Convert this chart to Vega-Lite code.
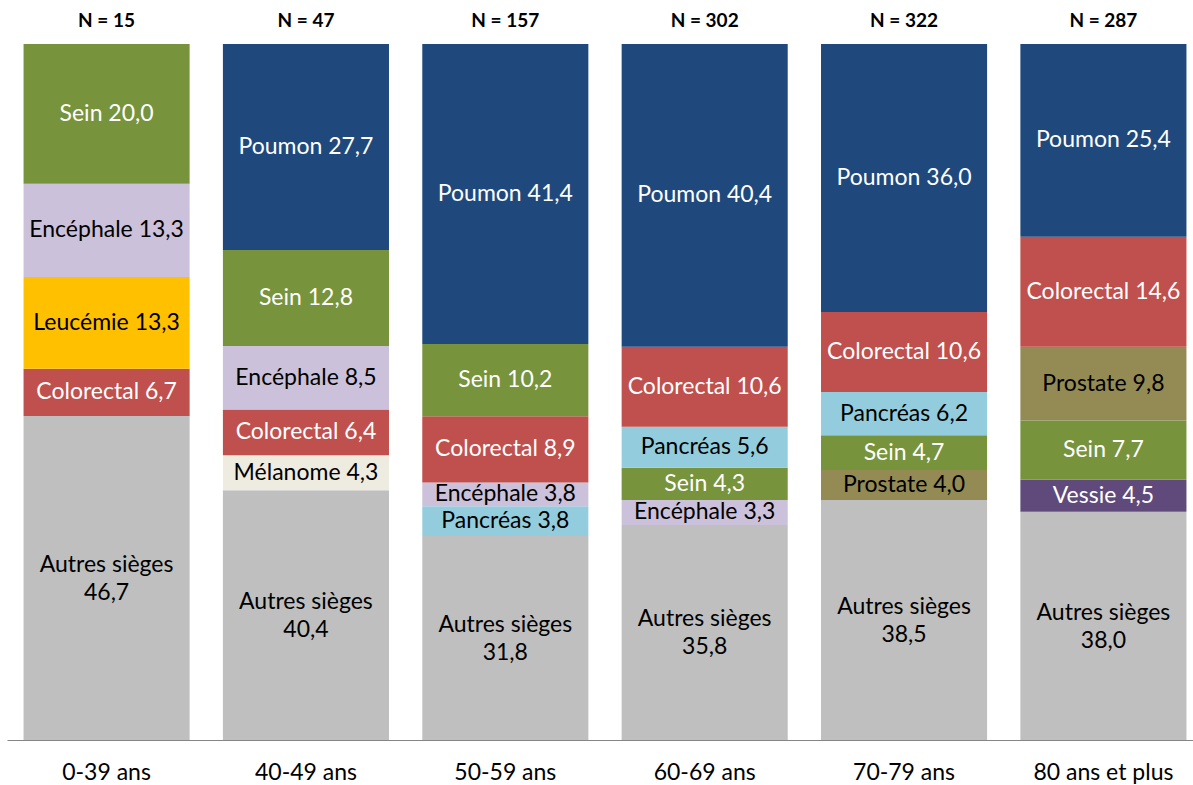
{
  "$schema": "https://vega.github.io/schema/vega-lite/v6.json",
  "width": 1196,
  "height": 696,
  "autosize": "none",
  "padding": {"left": 7, "top": 44, "right": 0, "bottom": 45},
  "background": "white",
  "config": {"view": {"stroke": null}, "font": "Lato"},
  "datasets": {
    "sieges": [
      {"age": "0-39 ans", "site": "Autres sièges", "pct": 46.7, "part": 46.6, "ordre": 1},
      {"age": "0-39 ans", "site": "Colorectal", "pct": 6.7, "part": 6.8, "ordre": 2},
      {"age": "0-39 ans", "site": "Leucémie", "pct": 13.3, "part": 13.2, "ordre": 3},
      {"age": "0-39 ans", "site": "Encéphale", "pct": 13.3, "part": 13.4, "ordre": 4},
      {"age": "0-39 ans", "site": "Sein", "pct": 20.0, "part": 20.1, "ordre": 5},
      {"age": "40-49 ans", "site": "Autres sièges", "pct": 40.4, "part": 35.9, "ordre": 1},
      {"age": "40-49 ans", "site": "Mélanome", "pct": 4.3, "part": 5.0, "ordre": 2},
      {"age": "40-49 ans", "site": "Colorectal", "pct": 6.4, "part": 6.6, "ordre": 3},
      {"age": "40-49 ans", "site": "Encéphale", "pct": 8.5, "part": 9.1, "ordre": 4},
      {"age": "40-49 ans", "site": "Sein", "pct": 12.8, "part": 13.8, "ordre": 5},
      {"age": "40-49 ans", "site": "Poumon", "pct": 27.7, "part": 29.6, "ordre": 6},
      {"age": "50-59 ans", "site": "Autres sièges", "pct": 31.8, "part": 29.3, "ordre": 1},
      {"age": "50-59 ans", "site": "Pancréas", "pct": 3.8, "part": 4.3, "ordre": 2},
      {"age": "50-59 ans", "site": "Encéphale", "pct": 3.8, "part": 3.4, "ordre": 3},
      {"age": "50-59 ans", "site": "Colorectal", "pct": 8.9, "part": 9.5, "ordre": 4},
      {"age": "50-59 ans", "site": "Sein", "pct": 10.2, "part": 10.4, "ordre": 5},
      {"age": "50-59 ans", "site": "Poumon", "pct": 41.4, "part": 43.1, "ordre": 6},
      {"age": "60-69 ans", "site": "Autres sièges", "pct": 35.8, "part": 30.9, "ordre": 1},
      {"age": "60-69 ans", "site": "Encéphale", "pct": 3.3, "part": 3.6, "ordre": 2},
      {"age": "60-69 ans", "site": "Sein", "pct": 4.3, "part": 4.6, "ordre": 3},
      {"age": "60-69 ans", "site": "Pancréas", "pct": 5.6, "part": 5.9, "ordre": 4},
      {"age": "60-69 ans", "site": "Colorectal", "pct": 10.6, "part": 11.5, "ordre": 5},
      {"age": "60-69 ans", "site": "Poumon", "pct": 40.4, "part": 43.5, "ordre": 6},
      {"age": "70-79 ans", "site": "Autres sièges", "pct": 38.5, "part": 34.5, "ordre": 1},
      {"age": "70-79 ans", "site": "Prostate", "pct": 4.0, "part": 4.3, "ordre": 2},
      {"age": "70-79 ans", "site": "Sein", "pct": 4.7, "part": 5.0, "ordre": 3},
      {"age": "70-79 ans", "site": "Pancréas", "pct": 6.2, "part": 6.2, "ordre": 4},
      {"age": "70-79 ans", "site": "Colorectal", "pct": 10.6, "part": 11.5, "ordre": 5},
      {"age": "70-79 ans", "site": "Poumon", "pct": 36.0, "part": 38.5, "ordre": 6},
      {"age": "80 ans et plus", "site": "Autres sièges", "pct": 38.0, "part": 32.8, "ordre": 1},
      {"age": "80 ans et plus", "site": "Vessie", "pct": 4.5, "part": 4.6, "ordre": 2},
      {"age": "80 ans et plus", "site": "Sein", "pct": 7.7, "part": 8.5, "ordre": 3},
      {"age": "80 ans et plus", "site": "Prostate", "pct": 9.8, "part": 10.6, "ordre": 4},
      {"age": "80 ans et plus", "site": "Colorectal", "pct": 14.6, "part": 15.8, "ordre": 5},
      {"age": "80 ans et plus", "site": "Poumon", "pct": 25.4, "part": 27.7, "ordre": 6}
    ],
    "effectifs": [
      {"age": "0-39 ans", "n": 15},
      {"age": "40-49 ans", "n": 47},
      {"age": "50-59 ans", "n": 157},
      {"age": "60-69 ans", "n": 302},
      {"age": "70-79 ans", "n": 322},
      {"age": "80 ans et plus", "n": 287}
    ]
  },
  "layer": [
    {
      "data": {"name": "sieges"},
      "transform": [
        {"stack": "part", "groupby": ["age"], "sort": [{"field": "ordre", "order": "ascending"}], "offset": "normalize", "as": ["y0", "y1"]},
        {"calculate": "(datum.y0 + datum.y1) / 2", "as": "ymid"},
        {"calculate": "replace(format(datum.pct, '.1f'), '.', ',')", "as": "val"},
        {"calculate": "datum.site === 'Autres sièges' ? [datum.site, datum.val] : datum.site + ' ' + datum.val", "as": "etiquette"}
      ],
      "layer": [
        {
          "mark": {"type": "bar"},
          "encoding": {
            "x": {
              "field": "age", "type": "nominal",
              "sort": ["0-39 ans", "40-49 ans", "50-59 ans", "60-69 ans", "70-79 ans", "80 ans et plus"],
              "scale": {"paddingInner": 0.167, "paddingOuter": 0.083},
              "axis": {"title": null, "ticks": false, "labelAngle": 0, "labelFontSize": 23, "labelColor": "black", "labelPadding": 21, "domainColor": "#868686", "domainWidth": 1.2}
            },
            "y": {"field": "y0", "type": "quantitative", "scale": {"domain": [0, 1]}, "axis": null},
            "y2": {"field": "y1"},
            "color": {
              "field": "site", "type": "nominal", "legend": null,
              "scale": {
                "domain": ["Poumon", "Colorectal", "Sein", "Encéphale", "Leucémie", "Autres sièges", "Mélanome", "Pancréas", "Prostate", "Vessie"],
                "range": ["#1F497D", "#C0504D", "#77933C", "#CCC1DA", "#FFC000", "#BFBFBF", "#EEECE1", "#93CDDD", "#948A54", "#604A7B"]
              }
            }
          }
        },
        {
          "transform": [{"filter": "datum.site !== 'Autres sièges'"}],
          "mark": {"type": "text", "fontSize": 23, "baseline": "middle", "align": "center"},
          "encoding": {
            "x": {"field": "age", "type": "nominal", "sort": ["0-39 ans", "40-49 ans", "50-59 ans", "60-69 ans", "70-79 ans", "80 ans et plus"]},
            "y": {"field": "ymid", "type": "quantitative"},
            "text": {"field": "etiquette"},
            "color": {
              "condition": {"test": "indexof(['Poumon', 'Colorectal', 'Sein', 'Vessie'], datum.site) >= 0", "value": "white"},
              "value": "black"
            }
          }
        },
        {
          "transform": [{"filter": "datum.site === 'Autres sièges'"}],
          "mark": {"type": "text", "fontSize": 23, "lineHeight": 28, "baseline": "middle", "align": "center", "dy": -13, "color": "black"},
          "encoding": {
            "x": {"field": "age", "type": "nominal", "sort": ["0-39 ans", "40-49 ans", "50-59 ans", "60-69 ans", "70-79 ans", "80 ans et plus"]},
            "y": {"field": "ymid", "type": "quantitative"},
            "text": {"field": "etiquette"}
          }
        }
      ]
    },
    {
      "data": {"name": "effectifs"},
      "transform": [{"calculate": "'N = ' + datum.n", "as": "libelle"}],
      "mark": {"type": "text", "fontWeight": "bold", "fontSize": 19, "dy": -23, "baseline": "middle", "color": "black"},
      "encoding": {
        "x": {"field": "age", "type": "nominal", "sort": ["0-39 ans", "40-49 ans", "50-59 ans", "60-69 ans", "70-79 ans", "80 ans et plus"]},
        "y": {"datum": 1, "type": "quantitative"},
        "text": {"field": "libelle"}
      }
    }
  ]
}
